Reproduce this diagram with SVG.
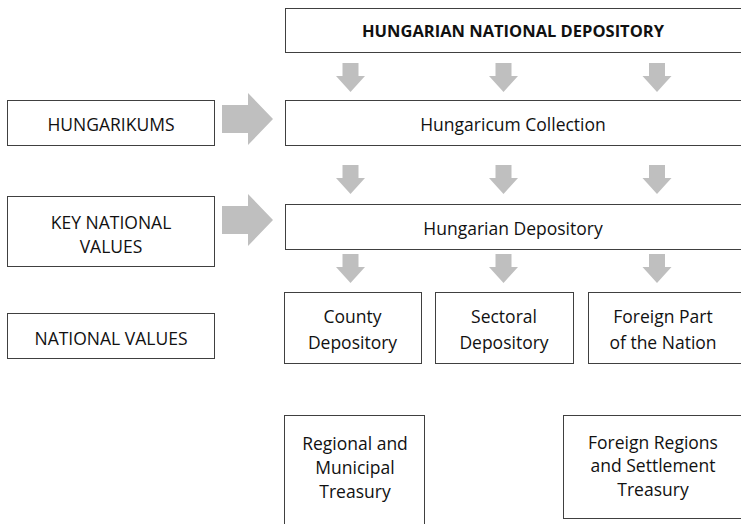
<svg xmlns="http://www.w3.org/2000/svg" width="741" height="524" viewBox="0 0 741 524">
<style>
.box{fill:#ffffff;stroke:#404040;stroke-width:1}
.arr{fill:#bfbfbf}
text{font-family:"Open Sans","Liberation Sans",sans-serif;font-size:17.5px;fill:#111111;text-anchor:middle}
.b{font-weight:bold;font-size:16.5px}
</style>
<defs>
<path id="down" d="M-8,0 H8 V13 H14.5 L0,29 L-14.5,13 H-8 Z"/>
<path id="right" d="M0,-14 H26 V-26 L51,0 L26,26 V14 H0 Z"/>
</defs>
<rect width="741" height="524" fill="#ffffff"/>
<g id="connectors">
<use href="#down" class="arr" x="350.5" y="63"/>
<use href="#down" class="arr" x="503.5" y="63"/>
<use href="#down" class="arr" x="657" y="63"/>
<use href="#down" class="arr" x="350.5" y="165"/>
<use href="#down" class="arr" x="503.5" y="165"/>
<use href="#down" class="arr" x="657" y="165"/>
<use href="#down" class="arr" x="350.5" y="254"/>
<use href="#down" class="arr" x="503.5" y="254"/>
<use href="#down" class="arr" x="657" y="254"/>
<use href="#right" class="arr" x="222" y="119"/>
<use href="#right" class="arr" x="222" y="220"/>
</g>
<g id="national-depository">
<rect class="box" x="285.5" y="8.5" width="460" height="44"/>
<text class="b" x="513" y="37">HUNGARIAN NATIONAL DEPOSITORY</text>
</g>
<g id="hungaricum-collection">
<rect class="box" x="285.5" y="100.5" width="460" height="45"/>
<text x="513" y="131">Hungaricum Collection</text>
</g>
<g id="hungarian-depository">
<rect class="box" x="285.5" y="204.5" width="460" height="45"/>
<text x="513" y="235">Hungarian Depository</text>
</g>
<g id="hungarikums">
<rect class="box" x="7.5" y="100.5" width="207" height="45"/>
<text x="111" y="131">HUNGARIKUMS</text>
</g>
<g id="key-national-values">
<rect class="box" x="7.5" y="196.5" width="207" height="70"/>
<text x="111" y="229">KEY NATIONAL</text>
<text x="111" y="253">VALUES</text>
</g>
<g id="national-values">
<rect class="box" x="7.5" y="313.5" width="207" height="45"/>
<text x="111" y="345">NATIONAL VALUES</text>
</g>
<g id="county-depository">
<rect class="box" x="284.5" y="292.5" width="137" height="71"/>
<text x="352.5" y="323">County</text>
<text x="352.5" y="349">Depository</text>
</g>
<g id="sectoral-depository">
<rect class="box" x="435.5" y="292.5" width="138" height="71"/>
<text x="504" y="323">Sectoral</text>
<text x="504" y="349">Depository</text>
</g>
<g id="foreign-part">
<rect class="box" x="588.5" y="292.5" width="160" height="71"/>
<text x="663" y="323">Foreign Part</text>
<text x="663" y="349">of the Nation</text>
</g>
<g id="regional-treasury">
<rect class="box" x="284.5" y="415.5" width="140" height="115"/>
<text x="355" y="450">Regional and</text>
<text x="355" y="474">Municipal</text>
<text x="355" y="498">Treasury</text>
</g>
<g id="foreign-regions-treasury">
<rect class="box" x="563.5" y="415.5" width="185" height="103"/>
<text x="653" y="449">Foreign Regions</text>
<text x="653" y="472">and Settlement</text>
<text x="653" y="496">Treasury</text>
</g>
</svg>
